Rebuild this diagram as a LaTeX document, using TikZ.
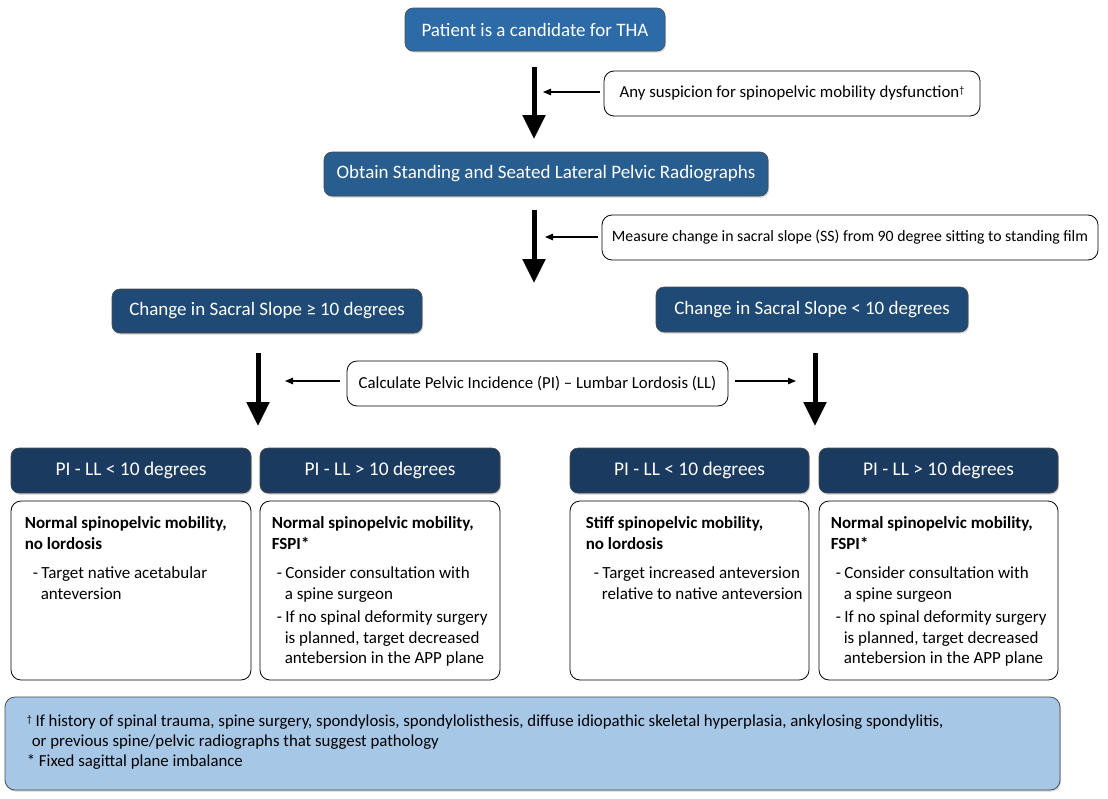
\documentclass[tikz,border=0pt]{standalone}
\usepackage{fontspec}
\setmainfont{Carlito}
\usetikzlibrary{arrows.meta,shadows}
\definecolor{c1}{RGB}{44,106,168}
\definecolor{c2}{RGB}{40,93,143}
\definecolor{c3}{RGB}{30,74,117}
\definecolor{c4}{RGB}{27,58,96}
\definecolor{cfoot}{RGB}{167,199,231}
\newcommand\dsh{\makebox[8.5pt][l]{-}}
\newcommand\smdag{\raisebox{4pt}{\fontsize{10}{10}\selectfont\dag}}
\begin{document}
\begin{tikzpicture}[x=1pt,y=-1pt,
  bluebox/.style={draw=black!70,line width=0.6pt,rounded corners=8pt,text=white,
     font=\fontsize{19}{21}\selectfont,inner sep=0pt,
     drop shadow={shadow xshift=1pt,shadow yshift=-1.5pt,opacity=0.35}},
  sidebox/.style={draw=black,line width=0.8pt,rounded corners=10pt,fill=white,
     font=\fontsize{16.8}{19}\selectfont,inner sep=0pt},
  bodybox/.style={draw=black,line width=0.8pt,rounded corners=10pt,fill=white,inner sep=0pt},
  bodytext/.style={anchor=north west,align=left,inner sep=0pt,font=\fontsize{17}{20.5}\selectfont},
  bigarrow/.style={line width=5pt,-{Triangle[width=22pt,length=24pt]}},
  thinarrow/.style={line width=1.1pt,-{Triangle[width=6.5pt,length=8pt]}}]
\useasboundingbox (0,0) rectangle (1108,798);
\fill[white] (0,0) rectangle (1108,798);

% main flow boxes
\node[bluebox,fill=c1,minimum width=260pt,minimum height=43pt] (top) at (535,29.5) {Patient is a candidate for THA};
\node[bluebox,fill=c2,minimum width=444pt,minimum height=44pt] (obtain) at (546,174) {Obtain Standing and Seated Lateral Pelvic Radiographs};
\node[bluebox,fill=c3,minimum width=310pt,minimum height=44pt] (chL) at (267,311) {Change in Sacral Slope ≥ 10 degrees};
\node[bluebox,fill=c3,minimum width=312pt,minimum height=45pt] (chR) at (812,309.5) {Change in Sacral Slope < 10 degrees};

% side boxes
\node[sidebox,minimum width=376pt,minimum height=45pt] (s1) at (792,93.5) {Any suspicion for spinopelvic mobility dysfunction\smdag};
\node[sidebox,minimum width=496pt,minimum height=45pt,font=\fontsize{15.8}{19}\selectfont] (s2) at (850,237.5) {Measure change in sacral slope (SS) from 90 degree sitting to standing film};
\node[sidebox,minimum width=381pt,minimum height=45pt] (s3) at (537.5,383.5) {Calculate Pelvic Incidence (PI) -- Lumbar Lordosis (LL)};

% big arrows
\coordinate (a1s) at (534,67); \coordinate (a1e) at (534,139);
\coordinate (a2s) at (534,210); \coordinate (a2e) at (534,283);
\coordinate (a3s) at (258,353); \coordinate (a3e) at (258,426);
\coordinate (a4s) at (815,353); \coordinate (a4e) at (815,426);
\draw[bigarrow] (a1s) -- (a1e);
\draw[bigarrow] (a2s) -- (a2e);
\draw[bigarrow] (a3s) -- (a3e);
\draw[bigarrow] (a4s) -- (a4e);

% thin arrows
\coordinate (t1) at (543,92);
\coordinate (t2) at (545,237);
\coordinate (t3) at (285,381);
\coordinate (t4) at (796,381);
\coordinate (s1a) at (600,92);
\coordinate (s2a) at (598,237);
\coordinate (s3a) at (340,381);
\coordinate (s3b) at (735,381);
\draw[thinarrow] (s1a) -- (t1);
\draw[thinarrow] (s2a) -- (t2);
\draw[thinarrow] (s3a) -- (t3);
\draw[thinarrow] (s3b) -- (t4);

% header boxes
\tikzset{hdr/.style={bluebox,fill=c4,minimum height=45pt,font=\fontsize{19.4}{21}\selectfont}}
\node[hdr,minimum width=240pt] (h1) at (131,470.5) {PI - LL < 10 degrees};
\node[hdr,minimum width=240pt] (h2) at (380,470.5) {PI - LL > 10 degrees};
\node[hdr,minimum width=239pt] (h3) at (689.5,470.5) {PI - LL < 10 degrees};
\node[hdr,minimum width=239pt] (h4) at (938.5,470.5) {PI - LL > 10 degrees};

% body boxes
\node[bodybox,minimum width=240pt,minimum height=179pt] (b1) at (131,590.5) {};
\node[bodybox,minimum width=240pt,minimum height=179pt] (b2) at (380,590.5) {};
\node[bodybox,minimum width=239pt,minimum height=179pt] (b3) at (689.5,590.5) {};
\node[bodybox,minimum width=239pt,minimum height=179pt] (b4) at (938.5,590.5) {};

\node[bodytext] (tx1) at ([xshift=14pt,yshift=-16pt]b1.north west) {\textbf{Normal spinopelvic mobility,}\\\textbf{no lordosis}\\[9pt]
\hspace*{8pt}\dsh Target native acetabular\\\hspace*{16pt}anteversion};
\node[bodytext] (tx2) at ([xshift=12pt,yshift=-16pt]b2.north west) {\textbf{Normal spinopelvic mobility,}\\\textbf{FSPI*}\\[9pt]
\hspace*{5pt}\dsh Consider consultation with\\\hspace*{13pt}a spine surgeon\\[3pt]
\hspace*{5pt}\dsh If no spinal deformity surgery\\\hspace*{13pt}is planned, target decreased\\\hspace*{13pt}antebersion in the APP plane};
\node[bodytext] (tx3) at ([xshift=16pt,yshift=-16pt]b3.north west) {\textbf{Stiff spinopelvic mobility,}\\\textbf{no lordosis}\\[9pt]
\hspace*{8pt}\dsh Target increased anteversion\\\hspace*{16pt}relative to native anteversion};
\node[bodytext] (tx4) at ([xshift=12pt,yshift=-16pt]b4.north west) {\textbf{Normal spinopelvic mobility,}\\\textbf{FSPI*}\\[9pt]
\hspace*{5pt}\dsh Consider consultation with\\\hspace*{13pt}a spine surgeon\\[3pt]
\hspace*{5pt}\dsh If no spinal deformity surgery\\\hspace*{13pt}is planned, target decreased\\\hspace*{13pt}antebersion in the APP plane};

% footnote
\node[draw=black!70,line width=0.8pt,rounded corners=10pt,fill=cfoot,minimum width=1055pt,minimum height=93pt,inner sep=0pt,
  drop shadow={shadow xshift=1pt,shadow yshift=-1.5pt,opacity=0.35}] (foot) at (532.5,743.5) {};
\node[anchor=north west,align=left,inner sep=0pt,font=\fontsize{16.8}{20}\selectfont] (ftext) at ([xshift=22pt,yshift=-18pt]foot.north west)
{\smdag\ If history of spinal trauma, spine surgery, spondylosis, spondylolisthesis, diffuse idiopathic skeletal hyperplasia, ankylosing spondylitis,\\
\hspace*{5pt}or previous spine/pelvic radiographs that suggest pathology\\
* Fixed sagittal plane imbalance};
\end{tikzpicture}
\end{document}
